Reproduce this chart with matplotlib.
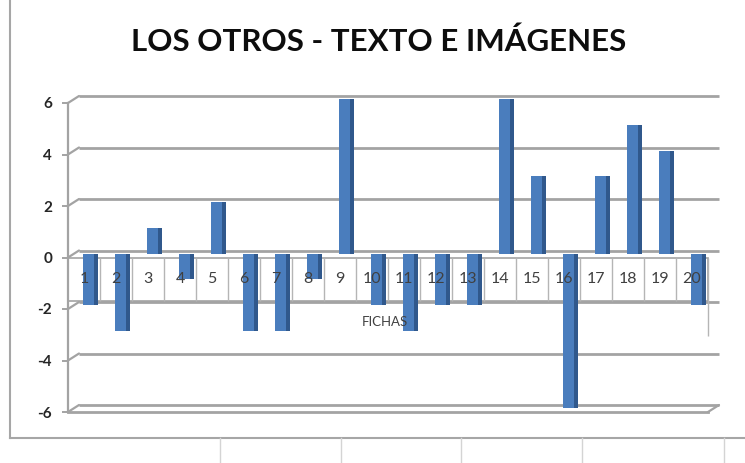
import matplotlib
matplotlib.use("Agg")
import matplotlib.pyplot as plt
import numpy as np
from matplotlib.transforms import ScaledTranslation
from matplotlib.patches import Rectangle
from matplotlib.lines import Line2D

# ---- data ----
categories = [str(i) for i in range(1, 21)]
values = [-2, -3, 1, -1, 2, -3, -3, -1, 6, -2, -3, -2, -2, 6, 3, -6, 3, 5, 4, -2]
yticks = [-6, -4, -2, 0, 2, 4, 6]
title = "LOS OTROS - TEXTO E IMÁGENES"
xlabel = "FICHAS"

FONT = "Lato"
W, H, DPI = 745, 463, 100
fig = plt.figure(figsize=(W / DPI, H / DPI), dpi=DPI)
fig.patch.set_facecolor("white")

# front plane of the 3D-like plot, in pixel layout
L, R, T, B = 68, 708, 103, 412
ax = fig.add_axes([L / W, 1 - B / H, (R - L) / W, (B - T) / H])
ax.set_xlim(0.5, 20.5)
ax.set_ylim(-6, 6)
ax.patch.set_alpha(0)

grid_c = "#a3a3a3"
back = ax.transData + ScaledTranslation(11 / DPI, 7 / DPI, fig.dpi_scale_trans)
mid = ax.transData + ScaledTranslation(6 / DPI, 4 / DPI, fig.dpi_scale_trans)

# back-wall gridlines + left slants
for v in yticks:
    ax.plot([0.5, 20.5], [v, v], transform=back, color=grid_c, lw=2.0,
            clip_on=False, zorder=1, solid_capstyle="butt")
    ax.annotate("", xy=(0.5, v), xycoords=back, xytext=(0.5, v), textcoords="data",
                arrowprops=dict(arrowstyle="-", color=grid_c, lw=1.6,
                                shrinkA=0, shrinkB=0), zorder=1)
# floor front edge and right slant
ax.plot([0.5, 20.5], [-6, -6], color=grid_c, lw=2.0, clip_on=False, zorder=1)
ax.annotate("", xy=(20.5, -6), xycoords=back, xytext=(20.5, -6), textcoords="data",
            arrowprops=dict(arrowstyle="-", color=grid_c, lw=1.6, shrinkA=0, shrinkB=0),
            zorder=1)

# category label band
band_low = -1.68
ax.add_patch(Rectangle((0.5, band_low), 20, -band_low, facecolor="white",
                       edgecolor=grid_c, lw=1.2, zorder=2, clip_on=False))
ax.vlines(np.arange(1.5, 20.5, 1), band_low, 0, color="#b5b5b5", lw=1.0, zorder=2)
ax.vlines([20.5], -3.03, 0, color="#b5b5b5", lw=1.0, zorder=2, clip_on=False)

# bars (front face + darker side strip)
x = np.arange(1, 21)
front = ax.bar(x - 0.04, values, width=0.36, color="#4a7dbd", zorder=3)
side = ax.bar(x + 0.19, values, width=0.1, color="#30588c", zorder=3)
for p in list(front) + list(side):
    p.set_transform(mid)
    p.set_clip_on(False)

# category labels
for xi, lab in zip(x, categories):
    ax.text(xi, band_low / 2, lab, ha="center", va="center", fontsize=11.5,
            color="#404040", family=FONT, zorder=4)
ax.text(10.4, -2.52, xlabel, ha="center", va="center", fontsize=9.5,
        color="#404040", family=FONT, zorder=4)

# axes styling
for s in ["top", "right", "bottom"]:
    ax.spines[s].set_visible(False)
ax.spines["left"].set_color(grid_c)
ax.spines["left"].set_linewidth(1.6)
ax.set_xticks([])
ax.set_yticks(yticks)
ax.set_yticklabels([str(v) for v in yticks], fontsize=11, fontweight="bold",
                   family=FONT, color="#262626")
ax.tick_params(axis="y", length=4.5, width=1.4, color=grid_c, pad=7)

# title
fig.text(379 / W, 1 - 42 / H, title, ha="center", va="center", fontsize=22.5,
         fontweight="bold", family=FONT, color="#0d0d0d")

# chart frame and spreadsheet cell lines
fb = 1 - 438 / H
fig.add_artist(Line2D([10 / W, 10 / W], [fb, 1], color="#a6a6a6", lw=1.5,
                      transform=fig.transFigure))
fig.add_artist(Line2D([10 / W, 1], [fb, fb], color="#a6a6a6", lw=1.5,
                      transform=fig.transFigure))
for cx in [220, 341, 461, 582, 724]:
    fig.add_artist(Line2D([cx / W, cx / W], [0, fb], color="#d4d4d4", lw=1.0,
                          transform=fig.transFigure))

fig.savefig("out.png", dpi=DPI)
